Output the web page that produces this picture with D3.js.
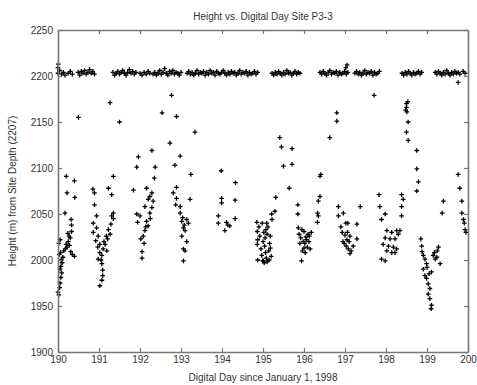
<!DOCTYPE html>
<html><head><meta charset="utf-8">
<script src="https://cdn.jsdelivr.net/npm/d3@7"></script>
<style>
html,body{margin:0;padding:0;background:#fff;}
svg text{font-family:"Liberation Sans",Arial,sans-serif;fill:#333;}
</style></head>
<body><svg id="chart" width="477" height="385"></svg>
<script>
const titleText = "Height vs. Digital Day Site P3-3";
const xLabelText = "Digital Day since January 1, 1998";
const yLabelText = "Height (m) from Site Depth (2207)";
const xTicks = [190,191,192,193,194,195,196,197,198,199,200];
const yTicks = [1900,1950,2000,2050,2100,2150,2200,2250];

// saturated readings near the top
const bandPoints = [
[190.00,2203],[190.04,2206],[190.09,2202],[190.13,2204],[190.17,2201],
[190.25,2203],[190.30,2205],[190.35,2202],
[190.49,2204],[190.53,2201],[190.57,2205],[190.61,2203],[190.65,2206],[190.69,2202],[190.73,2204],[190.77,2207],[190.81,2203],[190.85,2205],[190.89,2202],
[191.34,2204],[191.38,2201],[191.42,2203],[191.46,2205],[191.50,2202],[191.54,2204],[191.58,2206],[191.62,2203],[191.66,2201],[191.70,2204],[191.74,2207],[191.78,2203],[191.82,2205],[191.86,2202],[191.90,2204],
[192.00,2203],[192.05,2201],[192.10,2204],[192.15,2202],[192.20,2205],[192.24,2203],
[192.32,2202],[192.36,2204],[192.40,2201],[192.44,2203],[192.48,2206],[192.52,2202],[192.56,2204],[192.60,2208],[192.64,2203],[192.68,2201],[192.72,2205],[192.76,2203],[192.80,2206],[192.84,2202],[192.88,2204],[192.92,2203],[192.96,2201],[193.00,2204],
[193.15,2203],[193.19,2205],[193.23,2202],[193.27,2204],[193.31,2201],[193.35,2203],[193.39,2206],[193.43,2202],[193.47,2204],[193.51,2203],[193.55,2205],[193.59,2201],[193.63,2204],[193.67,2202],[193.71,2206],[193.75,2203],[193.79,2204],[193.83,2201],[193.87,2205],[193.91,2203],[193.95,2202],[193.99,2204],[194.03,2206],[194.07,2203],[194.11,2201],[194.15,2204],[194.19,2202],[194.23,2205],[194.27,2203],[194.31,2204],[194.35,2201],[194.39,2203],[194.43,2206],[194.47,2202],[194.51,2204],[194.55,2203],[194.59,2205],[194.63,2201],[194.67,2204],[194.71,2202],[194.75,2203],[194.79,2205],[194.83,2202],[194.87,2204],
[195.22,2203],[195.26,2201],[195.30,2204],[195.34,2202],[195.38,2205],[195.42,2203],[195.46,2201],[195.50,2204],[195.54,2202],[195.58,2206],[195.62,2203],[195.66,2204],[195.70,2201],[195.74,2203],[195.78,2205],[195.82,2202],[195.86,2204],[195.90,2203],
[196.39,2204],[196.43,2202],[196.47,2205],[196.51,2203],[196.55,2201],[196.59,2204],[196.63,2206],[196.67,2202],[196.71,2204],[196.75,2203],[196.79,2205],[196.83,2201],[196.87,2204],[196.91,2202],[196.95,2203],[196.99,2205],[197.03,2202],[197.07,2204],
[197.02,2209],[197.05,2212],
[197.24,2203],[197.28,2205],[197.32,2202],[197.36,2204],[197.40,2201],[197.44,2203],[197.48,2206],[197.52,2202],[197.56,2204],[197.60,2203],[197.64,2205],[197.68,2201],[197.72,2204],[197.76,2202],[197.80,2203],[197.84,2205],
[198.39,2203],[198.43,2201],[198.47,2204],[198.51,2202],[198.55,2205],[198.59,2203],[198.63,2201],[198.67,2204],[198.71,2202],[198.75,2203],[198.79,2205],[198.83,2202],[198.87,2204],
[199.20,2204],[199.24,2202],[199.28,2205],[199.32,2203],[199.36,2201],[199.40,2204],[199.44,2202],[199.48,2206],[199.52,2203],[199.56,2201],[199.60,2204],[199.64,2202],[199.68,2205],[199.72,2203],[199.76,2204],[199.80,2202],
[199.88,2205],[199.93,2203],
[190.00,2209],[190.01,2213]
];

// measured heights below saturation
const scatterPoints = [
// day 190
[190.00,1965],[190.02,1962],[190.04,1970],[190.05,1975],[190.07,1981],[190.09,1986],[190.05,1990],[190.07,1993],[190.10,1997],[190.08,2000],[190.12,2003],[190.03,2006],[190.06,2008],[190.14,2010],[190.18,2012],[190.22,2014],[190.02,2018],[190.05,2022],[190.20,2017],[190.25,2020],[190.28,2016],[190.31,2009],[190.35,2006],[190.40,2004],[190.30,2024],[190.27,2026],[190.24,2029],[190.33,2031],[190.33,2038],[190.32,2044],[190.17,2051],[190.22,2073],[190.41,2068],[190.20,2091],[190.40,2086],[190.50,2155],
// day 191
[190.85,2077],[190.89,2073],[190.89,2060],[190.94,2048],[190.86,2040],[190.94,2035],[190.86,2030],[190.98,2026],[190.92,2021],[191.02,2017],[190.97,2014],[191.02,2008],[190.98,2001],[191.07,1996],[191.09,1989],[191.09,1983],[191.07,1978],[191.02,1972],[191.23,2078],[191.31,2071],[191.35,2091],[191.35,2051],[191.35,2045],[191.31,2048],[191.29,2039],[191.23,2033],[191.27,2028],[191.21,2023],[191.15,2017],[191.10,2012],[191.19,2010],[191.07,2005],[191.12,2020],[191.18,2026],[191.05,2000],[191.27,2171],[191.50,2150],
// day 192
[191.96,2112],[191.92,2101],[192.29,2119],[192.37,2101],[192.35,2089],[191.84,2076],[192.16,2078],[192.29,2073],[192.24,2069],[192.20,2066],[192.32,2064],[192.12,2058],[192.29,2057],[192.24,2051],[191.92,2050],[192.00,2048],[191.94,2041],[192.16,2042],[192.20,2037],[192.12,2032],[192.08,2026],[192.02,2023],[192.05,2009],[192.05,2002],[192.25,2045],[192.10,2018],[192.14,2036],
[192.77,2179],[192.54,2160],[192.89,2156],[193.34,2139],[192.73,2127],[192.98,2113],[192.85,2103],
// day 193
[193.24,2093],[192.89,2079],[192.81,2073],[192.89,2067],[192.87,2060],[192.98,2058],[193.22,2066],[192.98,2051],[193.14,2044],[193.02,2042],[193.18,2040],[193.06,2035],[193.10,2032],[193.02,2026],[193.14,2020],[193.06,2012],[193.10,2010],[193.06,1999],[193.04,2046],[193.08,2038],
// day 194
[193.98,2097],[194.33,2084],[193.99,2067],[193.99,2062],[194.32,2065],[193.91,2048],[193.91,2040],[194.11,2041],[194.19,2037],[194.32,2045],[194.07,2032],[194.14,2038],
// day 195
[194.85,2041],[194.86,2031],[194.87,2022],[194.86,2017],[194.87,2000],[194.90,2036],[194.92,2026],[194.95,2012],[194.97,2005],[194.99,1999],[195.00,2020],[195.02,2030],[195.04,2015],[195.06,2008],[195.08,2002],[195.10,1998],[195.05,2024],[195.12,2036],[195.14,2010],[195.16,2018],[195.18,2026],[195.20,2004],[195.03,1997],[195.09,2040],[195.22,2044],[195.21,2050],[195.29,2053],[195.31,2068],[195.10,2028],[195.15,2000],[195.18,2013],[194.98,2040],[195.01,1999],[195.07,2033],
[195.41,2133],[195.45,2123],[195.71,2121],[195.50,2102],[195.71,2104],[195.64,2078],
// day 196
[195.85,2060],[195.85,2050],[195.86,2035],[195.88,2028],[195.95,2033],[196.00,2031],[196.05,2025],[196.10,2028],[195.92,2024],[195.90,2018],[196.02,2018],[196.08,2014],[195.96,2010],[196.03,2008],[196.12,2020],[196.15,2012],[196.06,2022],[196.18,2030],[195.94,1999],[196.13,2026],[196.00,2013],[195.98,2020],
[196.33,2051],[196.35,2048],[196.33,2041],[196.35,2064],[196.39,2069],[196.39,2091],[196.41,2093],[196.63,2133],[196.80,2160],[196.80,2151],
// day 197
[196.84,2058],[196.96,2051],[196.84,2048],[197.07,2040],[197.02,2040],[196.93,2030],[197.00,2027],[197.05,2022],[196.98,2018],[197.03,2015],[197.08,2012],[196.95,2020],[197.10,2020],[197.12,2026],[197.06,2030],[197.15,2010],[197.12,2007],[197.20,2015],[196.90,2036],[197.37,2058],
[197.71,2179],[197.29,2039],[197.29,2023],
// day 198
[197.83,2071],[197.85,2058],[197.98,2050],[197.89,2044],[198.38,2071],[198.42,2066],[198.38,2058],[198.38,2048],
[198.02,2032],[198.14,2030],[198.26,2032],[198.34,2032],[197.98,2024],[198.10,2023],[198.22,2023],[198.30,2028],[197.93,2017],[198.06,2015],[198.18,2014],[198.26,2012],[198.02,2010],[198.14,2008],[198.22,2008],[197.89,2001],[197.98,1999],
[198.50,2170],[198.50,2166],[198.51,2161],[198.53,2172],[198.48,2163],[198.54,2150],[198.50,2139],[198.54,2130],[198.75,2119],[198.75,2099],[198.79,2085],[198.75,2075],
// day 199
[198.85,2023],[198.87,2015],[198.91,2005],[198.95,2001],[198.99,1996],[198.91,1990],[198.95,1983],[198.99,1980],[199.03,1974],[199.07,1969],[199.03,1963],[199.07,1958],[199.11,1951],[199.10,1947],[199.15,2005],[199.24,2003],[199.20,2001],[199.32,1996],[199.11,1987],[199.40,2064],[199.37,2051],[199.25,2010],[199.28,2014],[198.88,2009],[199.00,1992],[199.18,2008],[199.05,1985],
[199.76,2093],[199.80,2078],[199.85,2064],[199.85,2051],[199.89,2044],[199.91,2040],[199.93,2033],[199.95,2030],[199.76,2193]
];

const W = 477, H = 385;
const plot = {left: 58, right: 468, top: 30, bottom: 352};
const svg = d3.select("#chart");

const x = d3.scaleLinear().domain([190, 200]).range([plot.left, plot.right]);
const y = d3.scaleLinear().domain([1900, 2250]).range([plot.bottom, plot.top]);

const axisColor = "#777";
const fontSize = 10;

function styleAxis(g, showText) {
  g.select(".domain").attr("stroke", axisColor).attr("stroke-width", 1.6);
  g.selectAll(".tick line").attr("stroke", axisColor).attr("stroke-width", 1.2);
  g.selectAll(".tick text").attr("font-size", fontSize).attr("fill", "#333")
    .attr("font-family", '"Liberation Sans", Arial, sans-serif')
    .style("display", showText ? null : "none");
}

// points first so axes sit above
const plus = "M-2.3,0H2.3M0,-2.3V2.3";
const gPts = svg.append("g");
gPts.selectAll("path.b").data(bandPoints).join("path").attr("class", "b")
  .attr("d", plus).attr("transform", d => `translate(${x(d[0])},${y(d[1])})`)
  .attr("stroke", "#000").attr("stroke-width", 1.3).attr("fill", "none");
gPts.selectAll("path.s").data(scatterPoints).join("path").attr("class", "s")
  .attr("d", plus).attr("transform", d => `translate(${x(d[0])},${y(d[1])})`)
  .attr("stroke", "#000").attr("stroke-width", 1.3).attr("fill", "none");

svg.append("g").attr("transform", `translate(0,${plot.bottom})`)
  .call(d3.axisBottom(x).tickValues(xTicks).tickFormat(d3.format("d")).tickSizeInner(-4).tickSizeOuter(0).tickPadding(4))
  .call(g => styleAxis(g, true));
svg.append("g").attr("transform", `translate(0,${plot.top})`)
  .call(d3.axisTop(x).tickValues(xTicks).tickSizeInner(-4).tickSizeOuter(0))
  .call(g => styleAxis(g, false));
svg.append("g").attr("transform", `translate(${plot.left},0)`)
  .call(d3.axisLeft(y).tickValues(yTicks).tickFormat(d3.format("d")).tickSizeInner(-4).tickSizeOuter(0).tickPadding(5))
  .call(g => styleAxis(g, true));
svg.append("g").attr("transform", `translate(${plot.right},0)`)
  .call(d3.axisRight(y).tickValues(yTicks).tickSizeInner(-4).tickSizeOuter(0))
  .call(g => styleAxis(g, false));

svg.append("text").attr("x", (plot.left + plot.right) / 2).attr("y", 20)
  .attr("text-anchor", "middle").attr("font-size", 10).text(titleText);
svg.append("text").attr("x", (plot.left + plot.right) / 2).attr("y", 381)
  .attr("text-anchor", "middle").attr("font-size", 10).text(xLabelText);
svg.append("text").attr("transform", `translate(16,${(plot.top + plot.bottom) / 2}) rotate(-90)`)
  .attr("text-anchor", "middle").attr("font-size", 10).text(yLabelText);
</script>
</body></html>
